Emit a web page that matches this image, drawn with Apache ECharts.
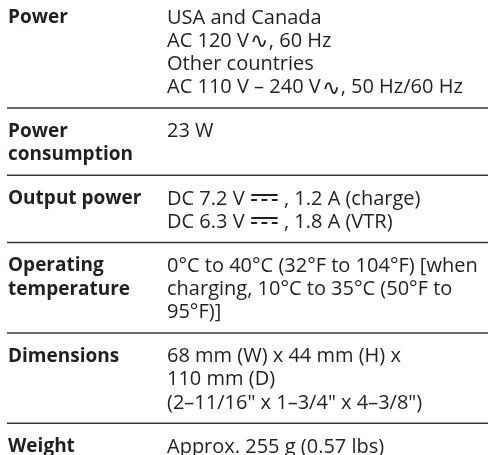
<!DOCTYPE html>
<html><head><meta charset="utf-8">
<script src="https://cdn.jsdelivr.net/npm/echarts@6/dist/echarts.min.js"></script>
<style>html,body{margin:0;padding:0;background:#fff}#c{width:488px;height:455px}</style>
</head><body><div id="c"></div>
<script>
// Data
const labels = [
  ['Power'],
  ['Power', 'consumption'],
  ['Output power'],
  ['Operating', 'temperature'],
  ['Dimensions'],
  ['Weight']
];
const values = [
  ['USA and Canada', 'AC 120 V\u223F, 60 Hz', 'Other countries', 'AC 110 V \u2013 240 V\u223F, 50 Hz/60 Hz'],
  ['23 W'],
  ['DC 7.2 V \u2393 , 1.2 A (charge)', 'DC 6.3 V \u2393 , 1.8 A (VTR)'],
  ['0\u00B0C to 40\u00B0C (32\u00B0F to 104\u00B0F) [when', 'charging, 10\u00B0C to 35\u00B0C (50\u00B0F to', '95\u00B0F)]'],
  ['68 mm (W) x 44 mm (H) x', '110 mm (D)', '(2\u201311/16" x 1\u20133/4" x 4\u20133/8")'],
  ['Approx. 255 g (0.57 lbs)']
];
// Layout (not data)
const LABEL_X = 8, VALUE_X = 167;
const FONT = '"Open Sans", "DejaVu Sans", sans-serif';
const FS_B = 19, FS = 20;
const PITCH = 23.2, TOP = 18, AFTER = 23.5, BEFORE = 20.5;
const INK = '#231f20';

function richify(t) {
  return t.replace(/\u223F/g, '{ac|\u223F}').replace(/\u2393/g, '{dc|\u2393}');
}
const rich = {
  ac: {fontFamily: 'DejaVu Sans', fontSize: 22, fontWeight: 'lighter', color: INK, padding: [3, 1, 0, 1]},
  dc: {fontFamily: 'DejaVu Sans', fontSize: 36, color: INK}
};

const chart = echarts.init(document.getElementById('c'), null, {renderer: 'canvas'});
const els = [];
let y = TOP;
labels.forEach((lab, i) => {
  const n = Math.max(lab.length, values[i].length);
  lab.forEach((t, k) => {
    els.push({type: 'text', x: LABEL_X, y: y + k * PITCH,
      style: {text: t, fontFamily: FONT, fontWeight: 'bold', fontSize: FS_B, fill: INK, verticalAlign: 'middle'}});
  });
  values[i].forEach((t, k) => {
    els.push({type: 'text', x: VALUE_X, y: y + k * PITCH,
      style: {text: richify(t), rich: rich, fontFamily: FONT, fontSize: FS, fill: INK, verticalAlign: 'middle'}});
  });
  const last = y + (n - 1) * PITCH;
  if (i < labels.length - 1) {
    const sy = last + BEFORE;
    els.push({type: 'line', shape: {x1: 7, y1: sy, x2: 488, y2: sy},
      style: {stroke: '#3a3a3a', lineWidth: 1.5}});
    y = sy + AFTER;
  }
});
chart.setOption({animation: false, graphic: {elements: els}});
</script></body></html>
